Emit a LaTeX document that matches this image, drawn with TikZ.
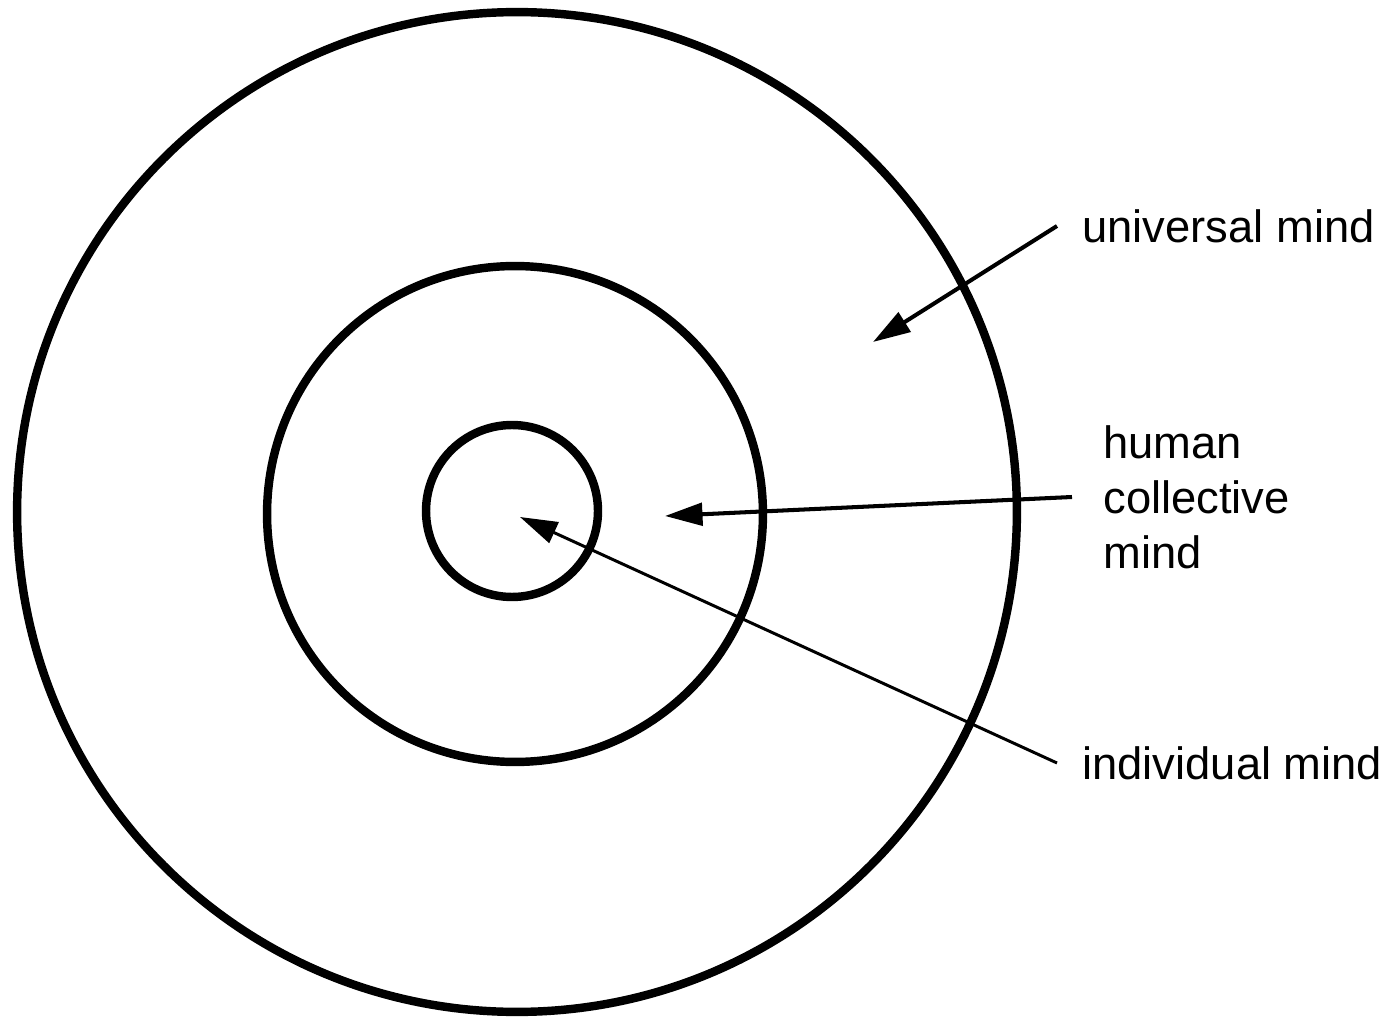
\documentclass[tikz,border=0pt]{standalone}
\usepackage{fontspec}
\setmainfont{Liberation Sans}
\usetikzlibrary{arrows.meta}

\begin{document}
\begin{tikzpicture}[x=0.02cm,y=-0.02cm]
  \tikzset{
    ring/.style={draw,circle,line width=4.8pt,inner sep=0pt},
    lbl/.style={anchor=west,inner xsep=0.5cm,inner ysep=0pt,align=left,
      font=\fontsize{25.8}{31.3}\selectfont},
    arr/.style={-{Triangle[length=0.75cm,width=0.45cm]},line width=2.3pt},
  }
  \useasboundingbox (0,0) rectangle (1400,1020);
  % rings
  \node[ring,minimum size=20.0cm] (outer) at (517,512) {};
  \node[ring,minimum size=9.92cm]  (middle) at (515,514) {};
  \node[ring,minimum size=3.44cm]  (inner) at (512,511) {};
  % labels
  \node[lbl] (univ) at (1057,226) {universal mind};
  \node[lbl,inner xsep=0.62cm] (human) at (1072,497) {human\\collective\\mind};
  \node[lbl] (indiv) at (1057,763) {individual mind};
  % arrow targets
  \coordinate (univhit)  at (873,342);
  \coordinate (humanhit) at (665,516);
  \coordinate (indivhit) at (520,517);
  \draw[arr] (univ.west)  -- (univhit);
  \draw[arr] (human.west) -- (humanhit);
  \draw[arr,line width=1.7pt] (indiv.west) -- (indivhit);
\end{tikzpicture}
\end{document}
